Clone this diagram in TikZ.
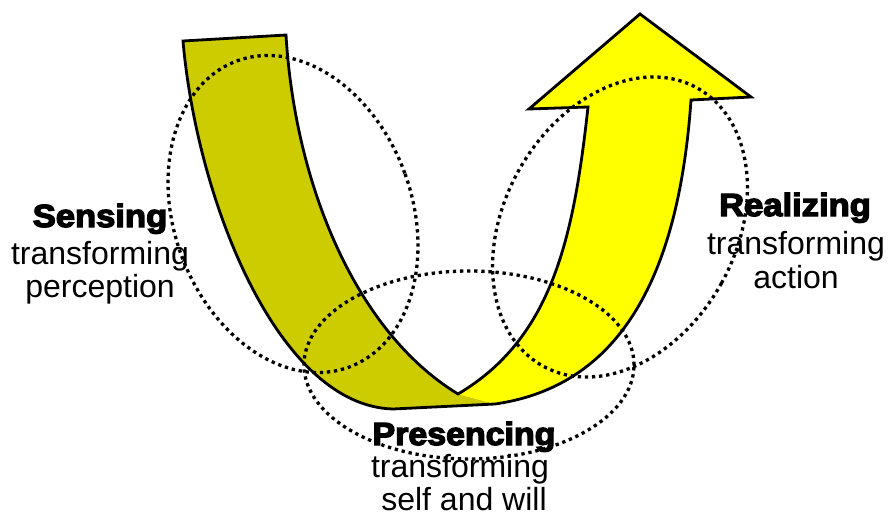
\documentclass[tikz,border=0pt]{standalone}
\usepackage{fontspec}
\setmainfont{Liberation Sans}
\newfontfamily\heavyfont[FakeBold=4]{Liberation Sans Bold}
\definecolor{arrowolive}{HTML}{CCCC00}
\definecolor{arrowyellow}{HTML}{FFFF00}
\begin{document}
\begin{tikzpicture}[x=1pt,y=-1pt,
  outline/.style={line width=2.8pt, line join=miter},
  dots/.style={line width=3.3pt, dash pattern=on 3.3pt off 3.8pt},
  head/.style={font=\heavyfont\fontsize{32}{36}\selectfont, anchor=base, inner sep=0pt},
  sub/.style={font=\fontsize{32}{36}\selectfont, anchor=base, inner sep=0pt}]
\useasboundingbox (0,0) rectangle (888,527);
% olive (left) band
\fill[arrowolive] (286,35) -- (183,41)
  .. controls (197,201) and (278,406) .. (393,409)
  -- (495,404) -- (458,394)
  .. controls (356,332) and (295,185) .. (286,35) -- cycle;
% yellow (right) arrow
\fill[arrowyellow] (458,394) -- (495,404)
  .. controls (635,384) and (680.5,250) .. (691,100)
  -- (751,97) -- (640,14) -- (529,109) -- (588,107)
  .. controls (573.7,237) and (552.6,338) .. (458,394) -- cycle;
% outline
\draw[outline] (286,35) -- (183,41)
  .. controls (197,201) and (278,406) .. (393,409)
  -- (495,404)
  .. controls (635,384) and (680.5,250) .. (691,100)
  -- (751,97) -- (640,14) -- (529,109) -- (588,107)
  .. controls (573.7,237) and (552.6,338) .. (458,394)
  .. controls (356,332) and (295,185) .. (286,35) -- cycle;
% dotted ellipses
\draw[dots, rotate around={20:(293,214)}] (293,214) ellipse [x radius=119pt, y radius=163pt];
\draw[dots, rotate around={-29:(620,227)}] (620,227) ellipse [x radius=116pt, y radius=159pt];
\draw[dots] (469,365) ellipse [x radius=165pt, y radius=94pt];
% labels
\node[head] (sensing) at (100,227) {\scalebox{1.08}[1]{Sensing}};
\node[sub] (sensingA) at (100,264) {transforming};
\node[sub] (sensingB) at (100,297) {perception};
\node[head] (realizing) at (795,216) {\scalebox{1.08}[1]{Realizing}};
\node[sub] (realizingA) at (796,254) {transforming};
\node[sub] (realizingB) at (796,288) {action};
\node[head] (presencing) at (464,445) {\scalebox{1.06}[1]{Presencing}};
\node[sub] (presencingA) at (460,477) {transforming};
\node[sub] (presencingB) at (464,510) {self and will};
\end{tikzpicture}
\end{document}
